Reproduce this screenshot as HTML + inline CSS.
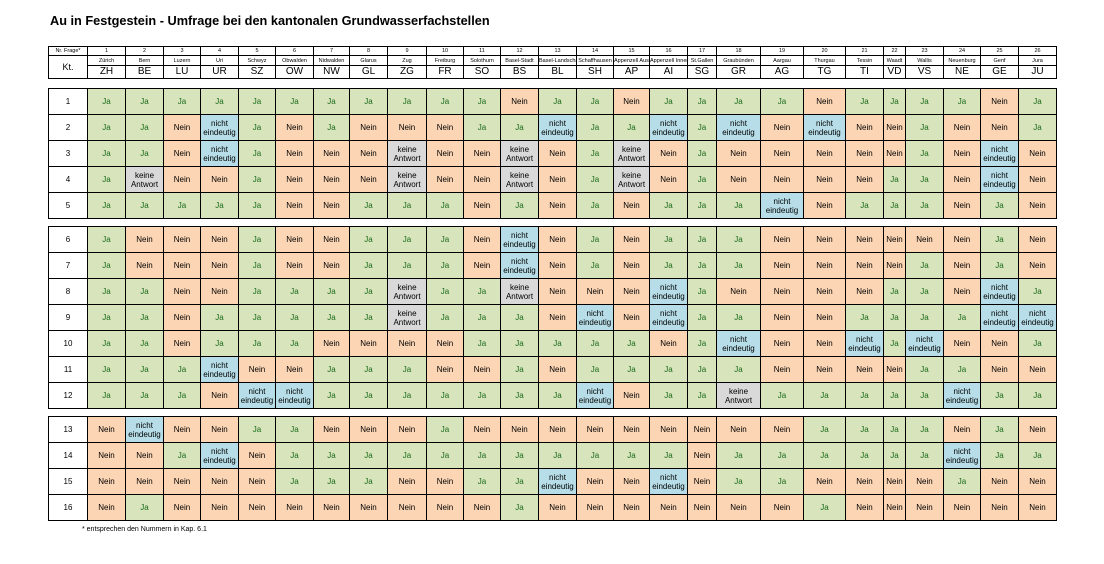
<!DOCTYPE html>
<html><head><meta charset="utf-8">
<style>
html,body{margin:0;padding:0;background:#fff;}
body{width:1104px;height:564px;position:relative;overflow:hidden;font-family:"Liberation Sans",Arial,sans-serif;color:#000;}
.title{position:absolute;left:50px;top:13px;font-size:13px;font-weight:bold;white-space:nowrap;transform:scaleX(0.98);transform-origin:left top;}
table{border-collapse:collapse;table-layout:fixed;position:absolute;left:48px;width:1009px;}
td{border:1px solid #000;padding:0;text-align:center;vertical-align:middle;overflow:hidden;white-space:nowrap;}
.b td{height:25px;font-size:8px;line-height:9px;}
.b td.n{background:#fff;font-size:8px;}
.j{background:#d8e4bc;color:#1a6b1a;}
.x{background:#fcd5b4;}
.e{background:#b7dee8;white-space:normal;}
.k{background:#d9d9d9;white-space:normal;}
.h td{font-size:5.5px;line-height:8px;}
.h tr.r1 td{height:8px;}
.h tr.r2 td{height:9px;}
.h tr.r3 td{height:12px;font-size:10px;line-height:12px;}
.h td.kt{font-size:9px;}
.foot{position:absolute;left:82px;top:526px;font-size:7px;}
</style></head><body>
<div class="title">Au in Festgestein - Umfrage bei den kantonalen Grundwasserfachstellen</div>

<table class="h" style="top:46px">
<colgroup><col style="width:39px"><col style="width:38px"><col style="width:38px"><col style="width:37px"><col style="width:38px"><col style="width:37px"><col style="width:38px"><col style="width:36px"><col style="width:38px"><col style="width:39px"><col style="width:37px"><col style="width:37px"><col style="width:38px"><col style="width:38px"><col style="width:37px"><col style="width:36px"><col style="width:38px"><col style="width:29px"><col style="width:44px"><col style="width:43px"><col style="width:42px"><col style="width:38px"><col style="width:22px"><col style="width:38px"><col style="width:37px"><col style="width:38px"><col style="width:38px"></colgroup>
<tr class="r1"><td>Nr. Frage*</td><td>1</td><td>2</td><td>3</td><td>4</td><td>5</td><td>6</td><td>7</td><td>8</td><td>9</td><td>10</td><td>11</td><td>12</td><td>13</td><td>14</td><td>15</td><td>16</td><td>17</td><td>18</td><td>19</td><td>20</td><td>21</td><td>22</td><td>23</td><td>24</td><td>25</td><td>26</td></tr>
<tr class="r2"><td rowspan="2" class="kt">Kt.</td><td>Zürich</td><td>Bern</td><td>Luzern</td><td>Uri</td><td>Schwyz</td><td>Obwalden</td><td>Nidwalden</td><td>Glarus</td><td>Zug</td><td>Freiburg</td><td>Solothurn</td><td>Basel-Stadt</td><td>Basel-Landschaft</td><td>Schaffhausen</td><td>Appenzell Ausserrh.</td><td>Appenzell Innerrh.</td><td>St.Gallen</td><td>Graubünden</td><td>Aargau</td><td>Thurgau</td><td>Tessin</td><td>Waadt</td><td>Wallis</td><td>Neuenburg</td><td>Genf</td><td>Jura</td></tr>
<tr class="r3"><td>ZH</td><td>BE</td><td>LU</td><td>UR</td><td>SZ</td><td>OW</td><td>NW</td><td>GL</td><td>ZG</td><td>FR</td><td>SO</td><td>BS</td><td>BL</td><td>SH</td><td>AP</td><td>AI</td><td>SG</td><td>GR</td><td>AG</td><td>TG</td><td>TI</td><td>VD</td><td>VS</td><td>NE</td><td>GE</td><td>JU</td></tr>
</table>

<table class="b" style="top:88px">
<colgroup><col style="width:39px"><col style="width:38px"><col style="width:38px"><col style="width:37px"><col style="width:38px"><col style="width:37px"><col style="width:38px"><col style="width:36px"><col style="width:38px"><col style="width:39px"><col style="width:37px"><col style="width:37px"><col style="width:38px"><col style="width:38px"><col style="width:37px"><col style="width:36px"><col style="width:38px"><col style="width:29px"><col style="width:44px"><col style="width:43px"><col style="width:42px"><col style="width:38px"><col style="width:22px"><col style="width:38px"><col style="width:37px"><col style="width:38px"><col style="width:38px"></colgroup>
<tr><td class="n">1</td><td class="j">Ja</td><td class="j">Ja</td><td class="j">Ja</td><td class="j">Ja</td><td class="j">Ja</td><td class="j">Ja</td><td class="j">Ja</td><td class="j">Ja</td><td class="j">Ja</td><td class="j">Ja</td><td class="j">Ja</td><td class="x">Nein</td><td class="j">Ja</td><td class="j">Ja</td><td class="x">Nein</td><td class="j">Ja</td><td class="j">Ja</td><td class="j">Ja</td><td class="j">Ja</td><td class="x">Nein</td><td class="j">Ja</td><td class="j">Ja</td><td class="j">Ja</td><td class="j">Ja</td><td class="x">Nein</td><td class="j">Ja</td></tr>
<tr><td class="n">2</td><td class="j">Ja</td><td class="j">Ja</td><td class="x">Nein</td><td class="e">nicht eindeutig</td><td class="j">Ja</td><td class="x">Nein</td><td class="j">Ja</td><td class="x">Nein</td><td class="x">Nein</td><td class="x">Nein</td><td class="j">Ja</td><td class="j">Ja</td><td class="e">nicht eindeutig</td><td class="j">Ja</td><td class="j">Ja</td><td class="e">nicht eindeutig</td><td class="j">Ja</td><td class="e">nicht eindeutig</td><td class="x">Nein</td><td class="e">nicht eindeutig</td><td class="x">Nein</td><td class="x">Nein</td><td class="j">Ja</td><td class="x">Nein</td><td class="x">Nein</td><td class="j">Ja</td></tr>
<tr><td class="n">3</td><td class="j">Ja</td><td class="j">Ja</td><td class="x">Nein</td><td class="e">nicht eindeutig</td><td class="j">Ja</td><td class="x">Nein</td><td class="x">Nein</td><td class="x">Nein</td><td class="k">keine Antwort</td><td class="x">Nein</td><td class="x">Nein</td><td class="k">keine Antwort</td><td class="x">Nein</td><td class="j">Ja</td><td class="k">keine Antwort</td><td class="x">Nein</td><td class="j">Ja</td><td class="x">Nein</td><td class="x">Nein</td><td class="x">Nein</td><td class="x">Nein</td><td class="x">Nein</td><td class="j">Ja</td><td class="x">Nein</td><td class="e">nicht eindeutig</td><td class="x">Nein</td></tr>
<tr><td class="n">4</td><td class="j">Ja</td><td class="k">keine Antwort</td><td class="x">Nein</td><td class="x">Nein</td><td class="j">Ja</td><td class="x">Nein</td><td class="x">Nein</td><td class="x">Nein</td><td class="k">keine Antwort</td><td class="x">Nein</td><td class="x">Nein</td><td class="k">keine Antwort</td><td class="x">Nein</td><td class="j">Ja</td><td class="k">keine Antwort</td><td class="x">Nein</td><td class="j">Ja</td><td class="x">Nein</td><td class="x">Nein</td><td class="x">Nein</td><td class="x">Nein</td><td class="j">Ja</td><td class="j">Ja</td><td class="x">Nein</td><td class="e">nicht eindeutig</td><td class="x">Nein</td></tr>
<tr><td class="n">5</td><td class="j">Ja</td><td class="j">Ja</td><td class="j">Ja</td><td class="j">Ja</td><td class="j">Ja</td><td class="x">Nein</td><td class="x">Nein</td><td class="j">Ja</td><td class="j">Ja</td><td class="j">Ja</td><td class="x">Nein</td><td class="j">Ja</td><td class="x">Nein</td><td class="j">Ja</td><td class="x">Nein</td><td class="j">Ja</td><td class="j">Ja</td><td class="j">Ja</td><td class="e">nicht eindeutig</td><td class="x">Nein</td><td class="j">Ja</td><td class="j">Ja</td><td class="j">Ja</td><td class="x">Nein</td><td class="j">Ja</td><td class="x">Nein</td></tr>
</table>

<table class="b" style="top:226px">
<colgroup><col style="width:39px"><col style="width:38px"><col style="width:38px"><col style="width:37px"><col style="width:38px"><col style="width:37px"><col style="width:38px"><col style="width:36px"><col style="width:38px"><col style="width:39px"><col style="width:37px"><col style="width:37px"><col style="width:38px"><col style="width:38px"><col style="width:37px"><col style="width:36px"><col style="width:38px"><col style="width:29px"><col style="width:44px"><col style="width:43px"><col style="width:42px"><col style="width:38px"><col style="width:22px"><col style="width:38px"><col style="width:37px"><col style="width:38px"><col style="width:38px"></colgroup>
<tr><td class="n">6</td><td class="j">Ja</td><td class="x">Nein</td><td class="x">Nein</td><td class="x">Nein</td><td class="j">Ja</td><td class="x">Nein</td><td class="x">Nein</td><td class="j">Ja</td><td class="j">Ja</td><td class="j">Ja</td><td class="x">Nein</td><td class="e">nicht eindeutig</td><td class="x">Nein</td><td class="j">Ja</td><td class="x">Nein</td><td class="j">Ja</td><td class="j">Ja</td><td class="j">Ja</td><td class="x">Nein</td><td class="x">Nein</td><td class="x">Nein</td><td class="x">Nein</td><td class="x">Nein</td><td class="x">Nein</td><td class="j">Ja</td><td class="x">Nein</td></tr>
<tr><td class="n">7</td><td class="j">Ja</td><td class="x">Nein</td><td class="x">Nein</td><td class="x">Nein</td><td class="j">Ja</td><td class="x">Nein</td><td class="x">Nein</td><td class="j">Ja</td><td class="j">Ja</td><td class="j">Ja</td><td class="x">Nein</td><td class="e">nicht eindeutig</td><td class="x">Nein</td><td class="j">Ja</td><td class="x">Nein</td><td class="j">Ja</td><td class="j">Ja</td><td class="j">Ja</td><td class="x">Nein</td><td class="x">Nein</td><td class="x">Nein</td><td class="x">Nein</td><td class="j">Ja</td><td class="x">Nein</td><td class="j">Ja</td><td class="x">Nein</td></tr>
<tr><td class="n">8</td><td class="j">Ja</td><td class="j">Ja</td><td class="x">Nein</td><td class="x">Nein</td><td class="j">Ja</td><td class="j">Ja</td><td class="j">Ja</td><td class="j">Ja</td><td class="k">keine Antwort</td><td class="j">Ja</td><td class="j">Ja</td><td class="k">keine Antwort</td><td class="x">Nein</td><td class="x">Nein</td><td class="x">Nein</td><td class="e">nicht eindeutig</td><td class="j">Ja</td><td class="x">Nein</td><td class="x">Nein</td><td class="x">Nein</td><td class="x">Nein</td><td class="j">Ja</td><td class="j">Ja</td><td class="x">Nein</td><td class="e">nicht eindeutig</td><td class="j">Ja</td></tr>
<tr><td class="n">9</td><td class="j">Ja</td><td class="j">Ja</td><td class="x">Nein</td><td class="j">Ja</td><td class="j">Ja</td><td class="j">Ja</td><td class="j">Ja</td><td class="j">Ja</td><td class="k">keine Antwort</td><td class="j">Ja</td><td class="j">Ja</td><td class="j">Ja</td><td class="x">Nein</td><td class="e">nicht eindeutig</td><td class="x">Nein</td><td class="e">nicht eindeutig</td><td class="j">Ja</td><td class="j">Ja</td><td class="x">Nein</td><td class="x">Nein</td><td class="j">Ja</td><td class="j">Ja</td><td class="j">Ja</td><td class="j">Ja</td><td class="e">nicht eindeutig</td><td class="e">nicht eindeutig</td></tr>
<tr><td class="n">10</td><td class="j">Ja</td><td class="j">Ja</td><td class="x">Nein</td><td class="j">Ja</td><td class="j">Ja</td><td class="j">Ja</td><td class="x">Nein</td><td class="x">Nein</td><td class="x">Nein</td><td class="x">Nein</td><td class="j">Ja</td><td class="j">Ja</td><td class="j">Ja</td><td class="j">Ja</td><td class="j">Ja</td><td class="x">Nein</td><td class="j">Ja</td><td class="e">nicht eindeutig</td><td class="x">Nein</td><td class="x">Nein</td><td class="e">nicht eindeutig</td><td class="j">Ja</td><td class="e">nicht eindeutig</td><td class="x">Nein</td><td class="x">Nein</td><td class="j">Ja</td></tr>
<tr><td class="n">11</td><td class="j">Ja</td><td class="j">Ja</td><td class="j">Ja</td><td class="e">nicht eindeutig</td><td class="x">Nein</td><td class="x">Nein</td><td class="j">Ja</td><td class="j">Ja</td><td class="j">Ja</td><td class="x">Nein</td><td class="x">Nein</td><td class="j">Ja</td><td class="x">Nein</td><td class="j">Ja</td><td class="j">Ja</td><td class="j">Ja</td><td class="j">Ja</td><td class="j">Ja</td><td class="x">Nein</td><td class="x">Nein</td><td class="x">Nein</td><td class="x">Nein</td><td class="j">Ja</td><td class="j">Ja</td><td class="x">Nein</td><td class="x">Nein</td></tr>
<tr><td class="n">12</td><td class="j">Ja</td><td class="j">Ja</td><td class="j">Ja</td><td class="x">Nein</td><td class="e">nicht eindeutig</td><td class="e">nicht eindeutig</td><td class="j">Ja</td><td class="j">Ja</td><td class="j">Ja</td><td class="j">Ja</td><td class="j">Ja</td><td class="j">Ja</td><td class="j">Ja</td><td class="e">nicht eindeutig</td><td class="x">Nein</td><td class="j">Ja</td><td class="j">Ja</td><td class="k">keine Antwort</td><td class="j">Ja</td><td class="j">Ja</td><td class="j">Ja</td><td class="j">Ja</td><td class="j">Ja</td><td class="e">nicht eindeutig</td><td class="j">Ja</td><td class="j">Ja</td></tr>
</table>

<table class="b" style="top:416px">
<colgroup><col style="width:39px"><col style="width:38px"><col style="width:38px"><col style="width:37px"><col style="width:38px"><col style="width:37px"><col style="width:38px"><col style="width:36px"><col style="width:38px"><col style="width:39px"><col style="width:37px"><col style="width:37px"><col style="width:38px"><col style="width:38px"><col style="width:37px"><col style="width:36px"><col style="width:38px"><col style="width:29px"><col style="width:44px"><col style="width:43px"><col style="width:42px"><col style="width:38px"><col style="width:22px"><col style="width:38px"><col style="width:37px"><col style="width:38px"><col style="width:38px"></colgroup>
<tr><td class="n">13</td><td class="x">Nein</td><td class="e">nicht eindeutig</td><td class="x">Nein</td><td class="x">Nein</td><td class="j">Ja</td><td class="j">Ja</td><td class="x">Nein</td><td class="x">Nein</td><td class="x">Nein</td><td class="j">Ja</td><td class="x">Nein</td><td class="x">Nein</td><td class="x">Nein</td><td class="x">Nein</td><td class="x">Nein</td><td class="x">Nein</td><td class="x">Nein</td><td class="x">Nein</td><td class="x">Nein</td><td class="j">Ja</td><td class="j">Ja</td><td class="j">Ja</td><td class="j">Ja</td><td class="x">Nein</td><td class="j">Ja</td><td class="x">Nein</td></tr>
<tr><td class="n">14</td><td class="x">Nein</td><td class="x">Nein</td><td class="j">Ja</td><td class="e">nicht eindeutig</td><td class="x">Nein</td><td class="j">Ja</td><td class="j">Ja</td><td class="j">Ja</td><td class="j">Ja</td><td class="j">Ja</td><td class="j">Ja</td><td class="j">Ja</td><td class="j">Ja</td><td class="j">Ja</td><td class="j">Ja</td><td class="j">Ja</td><td class="x">Nein</td><td class="j">Ja</td><td class="j">Ja</td><td class="j">Ja</td><td class="j">Ja</td><td class="j">Ja</td><td class="j">Ja</td><td class="e">nicht eindeutig</td><td class="j">Ja</td><td class="j">Ja</td></tr>
<tr><td class="n">15</td><td class="x">Nein</td><td class="x">Nein</td><td class="x">Nein</td><td class="x">Nein</td><td class="x">Nein</td><td class="j">Ja</td><td class="j">Ja</td><td class="j">Ja</td><td class="x">Nein</td><td class="x">Nein</td><td class="j">Ja</td><td class="j">Ja</td><td class="e">nicht eindeutig</td><td class="x">Nein</td><td class="x">Nein</td><td class="e">nicht eindeutig</td><td class="x">Nein</td><td class="j">Ja</td><td class="j">Ja</td><td class="x">Nein</td><td class="x">Nein</td><td class="x">Nein</td><td class="x">Nein</td><td class="j">Ja</td><td class="x">Nein</td><td class="x">Nein</td></tr>
<tr><td class="n">16</td><td class="x">Nein</td><td class="j">Ja</td><td class="x">Nein</td><td class="x">Nein</td><td class="x">Nein</td><td class="x">Nein</td><td class="x">Nein</td><td class="x">Nein</td><td class="x">Nein</td><td class="x">Nein</td><td class="x">Nein</td><td class="j">Ja</td><td class="x">Nein</td><td class="x">Nein</td><td class="x">Nein</td><td class="x">Nein</td><td class="x">Nein</td><td class="x">Nein</td><td class="x">Nein</td><td class="j">Ja</td><td class="x">Nein</td><td class="x">Nein</td><td class="x">Nein</td><td class="x">Nein</td><td class="x">Nein</td><td class="x">Nein</td></tr>
</table>

<div class="foot">* entsprechen den Nummern in Kap. 6.1</div>
</body></html>
